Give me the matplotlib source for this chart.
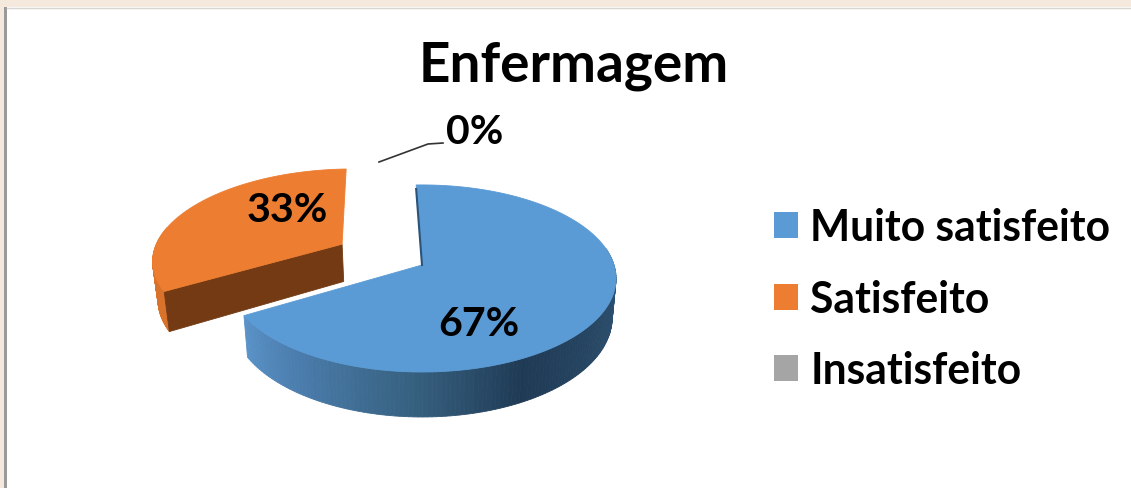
import numpy as np
import matplotlib
matplotlib.use('Agg')
import matplotlib.pyplot as plt
from matplotlib.colors import LinearSegmentedColormap
from matplotlib.patches import Patch

title = 'Enfermagem'
categories = ['Muito satisfeito', 'Satisfeito', 'Insatisfeito']
values = [67, 33, 0]
colors = ['#5b9bd5', '#ed7d31', '#a5a5a5']

plt.rcParams['font.family'] = ['Lato', 'DejaVu Sans']

# the pie is laid out in pixels of the 1131x489 picture
CX, CY = 422, 266
RX, RY = 192, 91.6
PERSP = 0.144
DEPTH = 38.5
START = -2.0
EXPLODE = 0.49


def project(u, v, z=0.0):
    s = 1 / (1 + PERSP * v)
    shrink = 1 - 0.02 * z
    return CX + RX * u * s * shrink, CY - RY * v * s + DEPTH * z * s


def arc(t0, t1, offset):
    t = np.radians(np.linspace(t0, t1, 200))
    return np.sin(t) + offset[0], np.cos(t) + offset[1]


def draw_slice(ax, t0, t1, offset, color, wall, side=None):
    u, v = arc(t0, t1, offset)
    # outer wall, strip by strip so it can carry a shade
    for i in range(len(u) - 1):
        if v[i] - offset[1] > 0.2:  # back of the pie, not seen
            continue
        x0, y0 = project(u[i:i + 2], v[i:i + 2], 0)
        x1, y1 = project(u[i:i + 2], v[i:i + 2], 1)
        c = wall((t0 + (t1 - t0) * i / (len(u) - 1)) % 360)
        ax.fill(np.r_[x0, x1[::-1]], np.r_[y0, y1[::-1]], color=c, lw=0.6, zorder=2)
    # cut face towards the viewer
    if side is not None:
        ax0, ay0 = project(offset[0], offset[1], 0)
        ax1, ay1 = project(offset[0], offset[1], 1)
        ex0, ey0 = project(u[0], v[0], 0)
        ex1, ey1 = project(u[0], v[0], 1)
        ax.fill([ax0, ex0, ex1, ax1], [ay0, ey0, ey1, ay1], color=side, lw=0.6, zorder=3)
    # top
    xt, yt = project(u, v, 0)
    ax0, ay0 = project(offset[0], offset[1], 0)
    ax.fill(np.r_[ax0, xt], np.r_[ay0, yt], color=color, lw=0.6, zorder=4)


blue_wall = LinearSegmentedColormap.from_list('w', [
    (0.0, '#2f5473'), (0.4, '#1f3a55'), (0.6, '#36607f'),
    (0.82, '#4a7cab'), (1.0, '#5a93c9')])


def blue_shade(t):
    return blue_wall(np.clip((t - 95) / (239 - 95), 0, 1))


def orange_shade(t):
    return '#d9722a'


fig = plt.figure(figsize=(11.31, 4.89), dpi=100, facecolor='white')
ax = fig.add_axes([0, 0, 1, 1])
ax.set_xlim(0, 1131)
ax.set_ylim(489, 0)
ax.axis('off')

# window frame behind the chart
ax.axhspan(0, 8, color='#f5e9de', lw=0, zorder=1)
ax.axvspan(0, 4, color='#f5e9de', lw=0, zorder=1)
ax.axvspan(4, 7, ymax=1 - 8 / 489, color='#9a9a9a', lw=0, zorder=1)
ax.axhline(8.5, xmin=7 / 1131, color='#d9d6d2', lw=1, zorder=1)

# slice angles come from the values, clockwise from 12 o'clock
angles = np.cumsum([0] + values) / sum(values) * 360 + START

# second slice is pulled out along its middle direction
mid = np.radians((angles[1] + angles[2]) / 2)
offset = (EXPLODE * np.sin(mid), EXPLODE * np.cos(mid))

draw_slice(ax, angles[1], angles[2], offset, colors[1], orange_shade, side='#733a13')
draw_slice(ax, angles[0], angles[1], (0, 0), colors[0], blue_shade)

# thin dark edge of the blue cut at the top
ux, uy = project(np.sin(np.radians(START)), np.cos(np.radians(START)))
ox, oy = project(0, 0)
ax.plot([ux, ox], [uy + 4, oy], color='#2c5378', lw=1.5, zorder=5)

# percent labels
label_pos = [(479, 325), (287, 211), (475, 132)]
for val, pos in zip(values, label_pos):
    ax.text(pos[0], pos[1], f'{val}%', fontsize=29.5, fontweight='bold', color='black',
            ha='center', va='center', zorder=6)

# leader of the 0% label
ax.plot([379, 428, 443], [163, 145, 144], color='#333333', lw=1.2, zorder=5)

ax.text(574, 66, title, fontsize=39.5, fontweight='bold', color='black',
        ha='center', va='center', zorder=6)

handles = [Patch(facecolor=c, edgecolor='none') for c in colors]
leg = ax.legend(handles, categories, loc='upper left', bbox_to_anchor=(0.684, 0.574),
                frameon=False, fontsize=30.7, handlelength=0.565, handleheight=0.565,
                handletextpad=0.3, labelspacing=0.74, borderpad=0, borderaxespad=0)
for txt in leg.get_texts():
    txt.set_fontweight('bold')

fig.savefig('out.png', dpi=100)
